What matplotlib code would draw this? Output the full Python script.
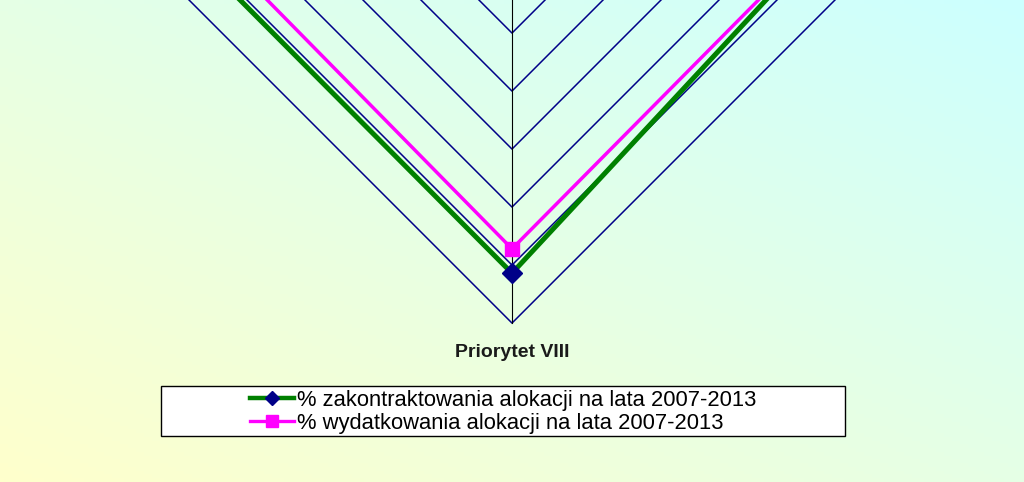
import numpy as np
import matplotlib
matplotlib.use("Agg")
import matplotlib.pyplot as plt
from matplotlib.lines import Line2D
from matplotlib.patches import Rectangle

# --------------------------------------------------
# Data (only the part around Priorytet VIII is visible)
# --------------------------------------------------

categories = ["Priorytet VI", "Priorytet VII", "Priorytet VIII", "Priorytet IX"]
contracted = [80.0, 85.0, 91.4, 91.0]
spent = [75.0, 86.4, 87.2, 85.8]
grid_levels = [10, 20, 30, 40, 50, 60, 70, 80, 90, 100]

series_labels = [
    "% zakontraktowania alokacji na lata 2007-2013",
    "% wydatkowania alokacji na lata 2007-2013",
]

# --------------------------------------------------
# Style
# --------------------------------------------------

plt.rcParams["font.family"] = ["Liberation Sans", "DejaVu Sans"]

NAVY = "#000088"
GREEN = "#008000"
PINK = "#FF00FF"

# radar angles: first category on top, going clockwise
angles = np.deg2rad(90 - 360 * np.arange(len(categories)) / len(categories))


def to_xy(values):
    v = np.asarray(values, dtype=float)
    x = v * np.cos(angles)
    y = v * np.sin(angles)
    return np.append(x, x[0]), np.append(y, y[0])


fig = plt.figure(figsize=(10.24, 4.82), dpi=100)

# --------------------------------------------------
# Gradient background (light yellow -> light cyan)
# --------------------------------------------------

bg = fig.add_axes([0, 0, 1, 1], zorder=0)
gx, gy = np.meshgrid(np.linspace(0, 1, 256), np.linspace(0, 1, 128))
t = (gx + gy) / 2
c0 = np.array([1.0, 1.0, 0.8])
c1 = np.array([0.8, 1.0, 1.0])
img = (1 - t)[..., None] * c0 + t[..., None] * c1
bg.imshow(img, origin="lower", extent=[0, 1, 0, 1], aspect="auto")
bg.set_axis_off()

# --------------------------------------------------
# Radar drawn on a cartesian axes (centre is above the picture)
# --------------------------------------------------

ax = fig.add_axes([0, 0, 1, 1], zorder=1)
ax.patch.set_alpha(0)
ax.set_xlim(-88.3, 88.3)
ax.set_ylim(-127.4, -44.3)
ax.set_axis_off()

for lev in grid_levels:
    gx_, gy_ = to_xy([lev] * len(categories))
    ax.plot(gx_, gy_, color=NAVY, lw=1.1, zorder=2)

for a in angles:
    ax.plot([0, 100 * np.cos(a)], [0, 100 * np.sin(a)], color="black", lw=0.8, zorder=3)

# only the bottom category label falls inside the picture
i_bottom = categories.index("Priorytet VIII")
a = angles[i_bottom]
ax.text(105 * np.cos(a), 105 * np.sin(a), categories[i_bottom], ha="center", va="center",
        fontsize=14, fontweight="bold", color="#1a1a1a", zorder=5)

cx, cy = to_xy(contracted)
ax.plot(cx, cy, color=GREEN, lw=3.6, zorder=4, solid_joinstyle="miter")
ax.plot(cx[:-1], cy[:-1], ls="none", marker="D", markersize=10,
        color=NAVY, markeredgecolor=NAVY, zorder=5)

sx, sy = to_xy(spent)
ax.plot(sx, sy, color=PINK, lw=2.5, zorder=4, solid_joinstyle="miter")
ax.plot(sx[:-1], sy[:-1], ls="none", marker="s", markersize=10,
        color=PINK, markeredgecolor=PINK, zorder=5)

# --------------------------------------------------
# Legend
# --------------------------------------------------

fig.patches.append(Rectangle((161 / 1024, 1 - 436 / 482), 684 / 1024, 50 / 482,
                             transform=fig.transFigure, facecolor="white",
                             edgecolor="black", lw=1.0, zorder=2))

handles = [
    Line2D([], [], color=GREEN, lw=3.2, marker="D", markersize=7,
           markerfacecolor=NAVY, markeredgecolor=NAVY),
    Line2D([], [], color=PINK, lw=2.4, marker="s", markersize=8,
           markerfacecolor=PINK, markeredgecolor=PINK),
]
leg = fig.legend(handles, series_labels, loc="center",
                 bbox_to_anchor=(503 / 1024, 1 - 412 / 482),
                 frameon=False, fontsize=15.8, handlelength=2.0,
                 handletextpad=0.15, labelspacing=0.1, borderpad=0)
leg.set_zorder(3)

fig.savefig("out.png", dpi=100)
